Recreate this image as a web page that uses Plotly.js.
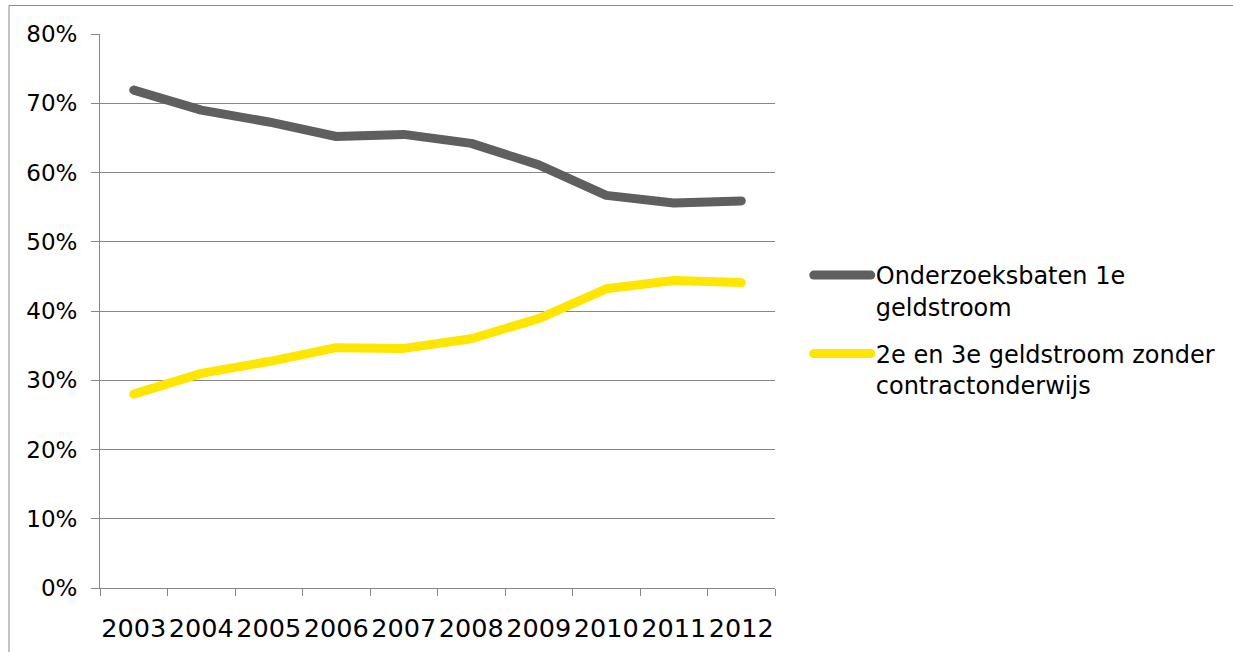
<!DOCTYPE html>
<html>
<head>
<meta charset="utf-8">
<script src="https://cdn.plot.ly/plotly-3.0.1.min.js"></script>
<style>
  html, body { margin: 0; padding: 0; background: #fff; }
  #chart { width: 1233px; height: 652px; }
  .scatterlayer path.js-line, .legendlines path { stroke-linecap: round; stroke-linejoin: round; }
</style>
</head>
<body>
<div id="chart"></div>
<script>
const years = ['2003','2004','2005','2006','2007','2008','2009','2010','2011','2012'];
const seriesNames = ['Onderzoeksbaten 1e<br>geldstroom', '2e en 3e geldstroom zonder<br>contractonderwijs'];
const eersteGeldstroom = [0.719, 0.690, 0.673, 0.652, 0.655, 0.642, 0.611, 0.567, 0.556, 0.559];
const tweedeDerdeGeldstroom = [0.280, 0.310, 0.327, 0.347, 0.346, 0.360, 0.389, 0.432, 0.444, 0.441];
const yTickVals = [0, 0.1, 0.2, 0.3, 0.4, 0.5, 0.6, 0.7, 0.8];

const gridCol = '#878787';
const font = 'DejaVu Sans, Verdana, sans-serif';

const traces = [
  { x: years, y: eersteGeldstroom, name: seriesNames[0], legendgroup: 'g1', type: 'scatter', mode: 'lines',
    line: { color: '#5f5f5f', width: 9 } },
  { x: years, y: tweedeDerdeGeldstroom, name: seriesNames[1], legendgroup: 'g2', type: 'scatter', mode: 'lines',
    line: { color: '#ffe600', width: 9 } }
];

const layout = {
  width: 1233, height: 652,
  margin: { l: 100, r: 458, t: 34, b: 64, pad: 0 },
  paper_bgcolor: '#ffffff', plot_bgcolor: '#ffffff',
  font: { family: font, size: 24, color: '#000' },
  showlegend: true,
  legend: { x: 1.05, y: 0.6047, xanchor: 'left', yanchor: 'top', valign: 'top',
            font: { family: font, size: 24, color: '#000' },
            itemwidth: 57, tracegroupgap: 13, bgcolor: 'rgba(0,0,0,0)' },
  xaxis: { type: 'category', range: [-0.5, 9.5], showline: true, linecolor: gridCol, linewidth: 1,
           ticks: 'outside', tickson: 'boundaries', ticklen: 7, tickcolor: gridCol, tickwidth: 1,
           tickangle: 0, showgrid: false, zeroline: false, tickfont: { family: font, size: 25.5, color: '#000' },
           ticklabelstandoff: 17, fixedrange: true },
  yaxis: { range: [0, 0.8], tickvals: yTickVals, tickformat: '.0%', showline: true, linecolor: gridCol, linewidth: 1,
           ticks: 'outside', ticklen: 8, tickcolor: gridCol, tickwidth: 1,
           showgrid: true, gridcolor: gridCol, gridwidth: 1, zeroline: false,
           tickfont: { family: font, size: 23, color: '#000' }, ticklabelstandoff: 9, fixedrange: true },
  shapes: [
    { type: 'line', xref: 'paper', yref: 'paper', x0: -0.1348, x1: 1.8, y0: 1.0515, y1: 1.0515,
      line: { color: '#8a8a8a', width: 1 } },
    { type: 'line', xref: 'paper', yref: 'paper', x0: -0.1348, x1: -0.1348, y0: 1.0515, y1: -0.2,
      line: { color: '#8a8a8a', width: 1 } }
  ]
};

Plotly.newPlot('chart', traces, layout, { displayModeBar: false, staticPlot: true });
</script>
</body>
</html>
